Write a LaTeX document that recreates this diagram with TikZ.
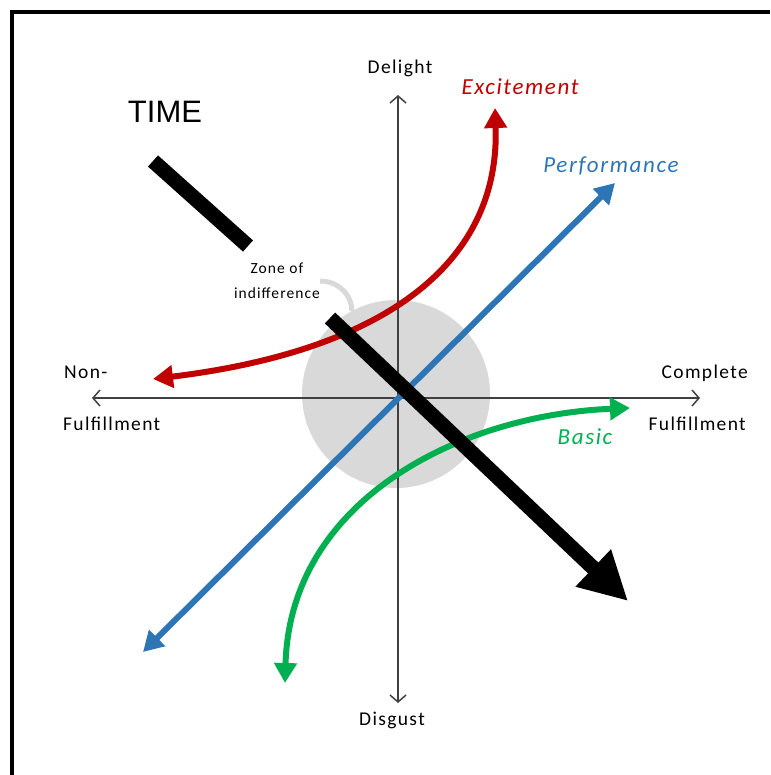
\documentclass[tikz,border=0pt]{standalone}
\usepackage{fontspec}
\setmainfont{Carlito}[LetterSpace=7]
\newfontfamily\arialfont{Liberation Sans}
\usepackage{xcolor}
\usepackage{tikz}
\usetikzlibrary{arrows.meta,positioning}
\definecolor{kanored}{HTML}{C00000}
\definecolor{kanoblue}{HTML}{2E75B6}
\definecolor{kanogreen}{HTML}{00B050}
\definecolor{zonegray}{HTML}{D9D9D9}
\definecolor{axisgray}{HTML}{404040}

\begin{document}
\begin{tikzpicture}[
  x=1pt, y=-1pt,
  lbl/.style={
    font=\fontsize{19.5}{25}\selectfont,
    inner sep=0pt
  },
  cat/.style={
    font=\fontsize{23}{26}\selectfont\itshape,
    inner sep=0pt
  },
  axis/.style={draw=axisgray, line width=1.5pt,
    {Straight Barb[length=7pt,width=16pt]}-{Straight Barb[length=7pt,width=16pt]}},
  curve/.style={line width=6pt,
    {Triangle[length=20pt,width=22pt]}-{Triangle[length=20pt,width=22pt]}},
  timebar/.style={line width=15pt, draw=black}
]
\useasboundingbox (0,0) rectangle (770,775);
\draw[line width=4pt] (12,775) -- (12,12) -- (770,12);

\node[circle, fill=zonegray, minimum size=188pt, inner sep=0pt] (zonecircle) at (396,394) {};

\coordinate (west) at (92,398);
\coordinate (east) at (700,398);
\coordinate (top) at (398,95);
\coordinate (bottom) at (398,703);
\draw[axis] (west) -- (east);
\draw[axis] (bottom) -- (top);

\node[lbl] (delight) at (400,68) {Delight};
\node[lbl] (disgust) at (392,720) {Disgust};
\node[lbl, anchor=west] (non) at (64,372) {Non-};
\node[lbl, anchor=west] (fulleft) at (63,424) {Fulfillment};
\node[lbl, anchor=east] (complete) at (748,373) {Complete};
\node[lbl, anchor=east] (fulright) at (746,424) {Fulfillment};

\node[lbl, align=center, font=\fontsize{15.5}{25}\selectfont] (zone) at (277,281) {Zone of\\indifference};
\draw[zonegray, line width=5pt] (zone.east) to[out=0, in=90] (zonecircle.118);

\coordinate (perfA) at (143,652);
\coordinate (perfB) at (615,183);
\draw[curve, kanoblue] (perfA) -- (perfB);
\node[cat, text=kanoblue] (perf) at (611,166) {Performance};

\coordinate (excA) at (153,379);
\coordinate (excB) at (495,108);
\draw[curve, kanored] (excA) .. controls (390,350) and (500,260) .. (excB);
\node[cat, text=kanored] (exc) at (520,87) {Excitement};

\coordinate (basA) at (285,683);
\coordinate (basB) at (630,408);
\draw[curve, kanogreen] (basA) .. controls (290,500) and (460,415) .. (basB);
\node[cat, text=kanogreen] (basic) at (585,437) {Basic};

\node[font=\arialfont\fontsize{31}{33}\selectfont, inner sep=0pt] (time) at (165,112) {TIME};
\coordinate (t1) at (153,161);
\coordinate (t2) at (248,246);
\coordinate (t3) at (330,318);
\coordinate (t4) at (628,601);
\draw[timebar] (t1) -- (t2);
\draw[timebar, -{Triangle[length=48pt,width=48pt]}] (t3) -- (t4);

\end{tikzpicture}
\end{document}
